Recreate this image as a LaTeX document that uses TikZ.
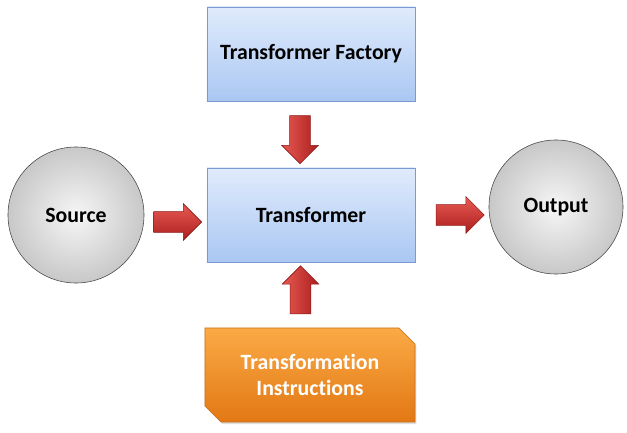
\documentclass[tikz,border=0pt]{standalone}
\usepackage{fontspec}
\setmainfont{Carlito}[Ligatures=NoCommon]
\usepackage{xcolor}
\definecolor{boxtop}{RGB}{224,235,252}
\definecolor{boxbot}{RGB}{170,199,242}
\definecolor{boxline}{RGB}{120,155,210}
\definecolor{disctop}{RGB}{246,246,246}
\definecolor{discbot}{RGB}{200,200,200}
\definecolor{discline}{RGB}{70,70,70}
\definecolor{ambertop}{RGB}{250,170,70}
\definecolor{amberbot}{RGB}{226,120,20}
\definecolor{amberline}{RGB}{200,110,30}
\definecolor{rubytop}{RGB}{232,90,82}
\definecolor{rubybot}{RGB}{170,30,30}
\definecolor{rubyline}{RGB}{140,25,25}
\usepackage{tikz}
\usetikzlibrary{arrows.meta,positioning,calc,shapes.arrows,shapes.misc,shadows}

\begin{document}
\begin{tikzpicture}[
  x=0.025cm,y=-0.025cm,
  panel/.style={rectangle,draw=boxline,thin,top color=boxtop,bottom color=boxbot,
                minimum width=5.2cm,minimum height=2.35cm,
                font=\fontsize{15.5}{18}\selectfont\bfseries,
                drop shadow={opacity=0.2,shadow xshift=1pt,shadow yshift=-1pt}},
  disc/.style={circle,draw=discline,thin,inner color=disctop,outer color=discbot,
               minimum size=3.4cm,
               font=\fontsize{15.5}{18}\selectfont\bfseries},
  ticket/.style={chamfered rectangle,chamfered rectangle corners={north east,south west},
                 chamfered rectangle xsep=0.2cm,chamfered rectangle ysep=0.2cm,
                 draw=amberline,thin,top color=ambertop,bottom color=amberbot,
                 minimum width=5.25cm,minimum height=2.35cm,align=center,
                 text=white,font=\fontsize{15.5}{19}\selectfont\bfseries,
                 drop shadow={opacity=0.25,shadow xshift=1pt,shadow yshift=-1.5pt}},
  fat/.style={single arrow,draw=rubyline,thin,
              minimum height=1.2cm,minimum width=0.9cm,
              single arrow head extend=0.2cm,inner sep=0.25cm},
  fatx/.style={fat,top color=rubytop,bottom color=rubybot},
  faty/.style={fat,left color=rubytop,right color=rubybot,shape border rotate=#1},
]
  \useasboundingbox (0,0) rectangle (627,433);

  %% boxes and discs
  \node[panel](F) at (311,54) {Transformer Factory};
  \node[panel](T) at (311,215) {Transformer};
  \node[disc](S) at (76,215) {Source};
  \node[disc,minimum size=3.35cm](O) at (556,207) {Output};
  \node[ticket](I) at (310,375) {Transformation\\Instructions};

  %% block arrows
  \node[faty=270] at ($(F.south)!0.5!(T.north)+(-11,0)$) {};
  \node[faty=90]  at ($(I.north)!0.5!(T.south)+(-10,0)$) {};
  \node[fatx]     at ($(S.east)!0.5!(T.west)+(-3,7)$) {};
  \node[fatx]     at ($(T.east)!0.5!(O.west)+(3,4)$) {};
\end{tikzpicture}
\end{document}
